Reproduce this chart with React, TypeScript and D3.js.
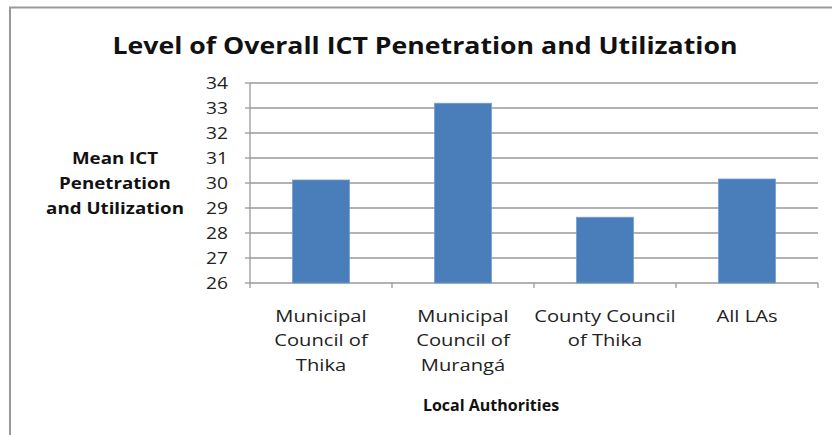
import React from "react";
import * as d3 from "d3";

const categories = [
  ["Municipal", "Council of", "Thika"],
  ["Municipal", "Council of", "Murangá"],
  ["County Council", "of Thika"],
  ["All LAs"],
];
const values = [30.12, 33.19, 28.63, 30.16];
const yTicks = [26, 27, 28, 29, 30, 31, 32, 33, 34];
const title = "Level of Overall ICT Penetration and Utilization";
const yTitle = ["Mean ICT", "Penetration", "and Utilization"];
const xTitle = "Local Authorities";

const W = 832;
const H = 435;
const font = "'Open Sans', sans-serif";

// the source picture is a bit wider than it is tall, text looks stretched sideways
function Wide({ x, sx, children }: { x: number; sx: number; children: React.ReactNode }) {
  return <g transform={`translate(${x},0) scale(${sx},1)`}>{children}</g>;
}

export default function App() {
  const left = 250;
  const right = 818;
  const top = 83;
  const bottom = 283;

  const x = d3
    .scaleBand<number>()
    .domain(d3.range(values.length))
    .range([left, right])
    .paddingInner(0.6)
    .paddingOuter(0.3);
  const band = d3.scaleBand<number>().domain(d3.range(values.length)).range([left, right]);
  const y = d3.scaleLinear().domain([26, 34]).range([bottom, top]);

  return (
    <svg
      width={W}
      height={H}
      style={{ position: "absolute", left: 0, top: 0, background: "#fff" }}
      fontFamily={font}
    >
      <rect x={10} y={7.5} width={W} height={H} fill="#fff" stroke="#999" strokeWidth={2} />
      <Wide x={425} sx={1.16}>
        <text x={0} y={54} textAnchor="middle" fontSize={23} fontWeight="bold" fill="#111">
          {title}
        </text>
      </Wide>

      {/* gridlines + y ticks */}
      {yTicks.map((t) => (
        <g key={t}>
          <line x1={left} x2={right} y1={y(t)} y2={y(t)} stroke="#999" strokeWidth={1.3} />
          <line x1={left - 5} x2={left} y1={y(t)} y2={y(t)} stroke="#999" strokeWidth={1.3} />
          <Wide x={228} sx={1.13}>
            <text x={0} y={y(t)} dy="0.36em" textAnchor="end" fontSize={17} fill="#222">
              {t}
            </text>
          </Wide>
        </g>
      ))}
      <line x1={left} x2={left} y1={top} y2={bottom} stroke="#999" strokeWidth={1.3} />

      {/* x ticks at band boundaries */}
      {d3.range(values.length + 1).map((i) => {
        const bx = i < values.length ? band(i)! : right;
        return <line key={i} x1={bx} x2={bx} y1={bottom} y2={bottom + 5} stroke="#999" strokeWidth={1.3} />;
      })}

      {values.map((v, i) => (
        <rect key={i} x={x(i)} y={y(v)} width={x.bandwidth()} height={y(26) - y(v)} fill="#4a7ebb" stroke="#6f9bd0" strokeWidth={0.8} />
      ))}

      {categories.map((lines, i) => (
        <Wide key={i} x={band(i)! + band.bandwidth() / 2} sx={1.2}>
          <text textAnchor="middle" fontSize={16.8} fill="#222">
            {lines.map((l, j) => (
              <tspan key={j} x={0} y={322 + j * 24.5}>
                {l}
              </tspan>
            ))}
          </text>
        </Wide>
      ))}

      <Wide x={115} sx={1.17}>
        <text textAnchor="middle" fontSize={16} fontWeight="bold" fill="#111">
          {yTitle.map((l, j) => (
            <tspan key={j} x={0} y={164 + j * 25}>
              {l}
            </tspan>
          ))}
        </text>
      </Wide>

      <text x={491} y={411} textAnchor="middle" fontSize={16} fontWeight="bold" fill="#111">
        {xTitle}
      </text>
    </svg>
  );
}
